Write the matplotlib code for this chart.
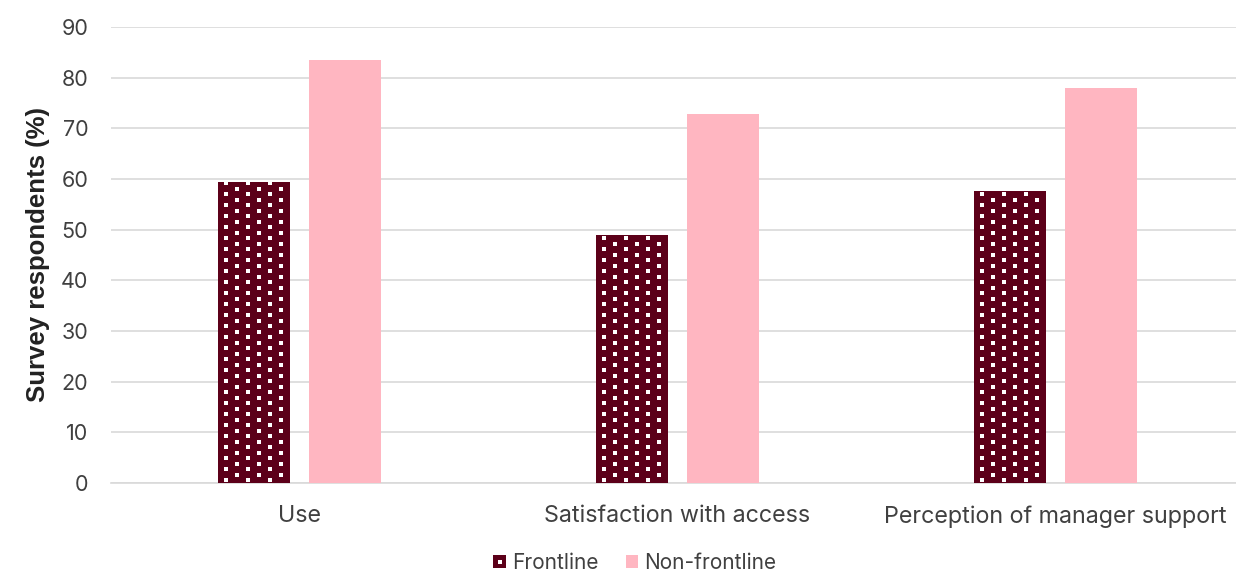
import matplotlib
matplotlib.use("Agg")
import matplotlib.pyplot as plt
from matplotlib.patches import Patch
from matplotlib.lines import Line2D
from matplotlib.legend_handler import HandlerTuple
import numpy as np

categories = ["Use", "Satisfaction with access", "Perception of manager support"]
frontline = [59.5, 49.0, 57.7]
non_frontline = [83.4, 72.9, 78.0]
yticks = [0, 10, 20, 30, 40, 50, 60, 70, 80, 90]

plt.rcParams["font.family"] = ["Inter", "DejaVu Sans"]

W, H = 1236, 572
fig = plt.figure(figsize=(W / 100, H / 100), dpi=100)
ax = fig.add_axes([110.5 / W, 1 - 483 / H, 1134 / W, (483 - 27) / H])

x = np.arange(len(categories))
w = 0.19
off = 0.12
text_col = "#404040"
maroon = "#5C0019"
pink = "#FFB6C1"

bars_f = ax.bar(x - off, frontline, w, color=maroon, linewidth=0, zorder=3)
ax.bar(x + off, non_frontline, w, color=pink, linewidth=0, zorder=3)

ax.set_xlim(-0.5, len(categories) - 0.5)
ax.set_ylim(0, 90)
ax.set_yticks(yticks)
ax.set_xticks(x)
ax.set_xticklabels(categories, fontsize=16.8, color=text_col)
ax.tick_params(axis="y", labelsize=15.5, colors=text_col, length=0, pad=16)
ax.tick_params(axis="x", length=0, pad=16)
ax.grid(axis="y", color="#D9D9D9", linewidth=1.2, zorder=0)
for s in ["top", "right", "left"]:
    ax.spines[s].set_visible(False)
ax.spines["bottom"].set_color("#D9D9D9")
ax.spines["bottom"].set_linewidth(1.2)

ax.set_ylabel("Survey respondents (%)", fontsize=18.5, fontweight="bold",
              family=["Liberation Sans", "DejaVu Sans"], color="#222222", labelpad=8)

# Dotted fill texture for the frontline bars: staggered rows of small white squares
row_step, col_step = 5.5, 22.0
to_data = ax.transData.inverted()
for bar in bars_f:
    x0, y0 = ax.transData.transform((bar.get_x(), 0))
    x1, y1 = ax.transData.transform((bar.get_x() + bar.get_width(), bar.get_height()))
    pts = []
    for i, py in enumerate(np.arange(y0 + 3, y1 - 1, row_step)):
        shift = 0 if i % 2 == 0 else col_step / 2
        for px in np.arange(x0 + 8 + shift, x1 - 1, col_step):
            pts.append((px, py))
    pts = to_data.transform(np.array(pts))
    ax.scatter(pts[:, 0], pts[:, 1], marker="s", s=5.0, color="white",
               linewidths=0, zorder=4, clip_path=bar)

handles = [
    (Patch(facecolor=maroon, linewidth=0),
     Line2D([], [], marker="s", markersize=2.2, markerfacecolor="white",
            markeredgewidth=0, linestyle="none")),
    Patch(facecolor=pink, linewidth=0),
]
fig.legend(handles, ["Frontline", "Non-frontline"],
           handler_map={tuple: HandlerTuple(ndivide=1, pad=0)},
           loc="center", bbox_to_anchor=(635 / W, 1 - 563 / H), ncol=2,
           frameon=False, fontsize=15, handlelength=0.6, handleheight=0.6,
           handletextpad=0.3, columnspacing=1.3, labelcolor=text_col)

fig.savefig("out.png", dpi=100)
